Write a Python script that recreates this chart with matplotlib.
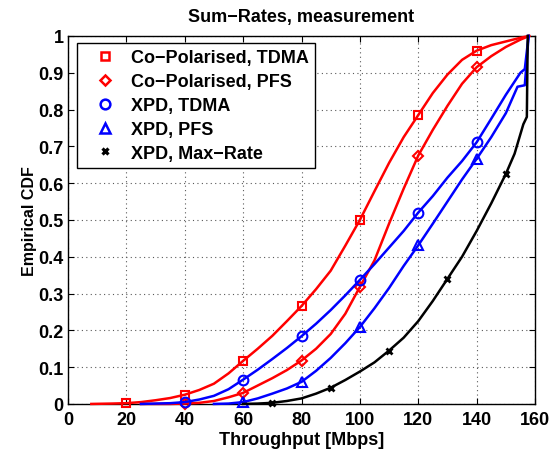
import numpy as np
import matplotlib
matplotlib.use('Agg')
import matplotlib.pyplot as plt
from matplotlib.lines import Line2D

# Данные (x - Mbps, y - CDF)
co_tdma_x = [8, 15, 20, 25, 30, 35, 40, 45, 50, 55, 60, 65, 70, 75, 80, 85, 90, 95, 100,
             105, 110, 115, 120, 125, 130, 135, 140, 145, 150, 155, 158]
co_tdma_y = [0, 0.001, 0.002, 0.005, 0.01, 0.016, 0.025, 0.038, 0.055, 0.083, 0.117, 0.15,
             0.185, 0.225, 0.266, 0.312, 0.362, 0.43, 0.50, 0.578, 0.655, 0.725, 0.785, 0.845,
             0.895, 0.935, 0.96, 0.975, 0.985, 0.995, 1.0]

co_pfs_x = [25, 30, 35, 40, 45, 50, 55, 60, 65, 70, 75, 80, 85, 90, 95, 100, 105, 110, 115,
            120, 125, 130, 135, 140, 145, 150, 155, 158]
co_pfs_y = [0, 0, 0, 0.001, 0.003, 0.008, 0.018, 0.03, 0.05, 0.07, 0.092, 0.118, 0.15, 0.19,
            0.245, 0.318, 0.39, 0.49, 0.585, 0.675, 0.745, 0.81, 0.87, 0.915, 0.945, 0.97,
            0.99, 1.0]

xpd_tdma_x = [25, 30, 35, 40, 45, 50, 55, 60, 65, 70, 75, 80, 85, 90, 95, 100, 105, 110, 115,
              120, 125, 130, 135, 140, 145, 150, 155, 156.5, 157.8]
xpd_tdma_y = [0, 0.001, 0.002, 0.005, 0.012, 0.022, 0.04, 0.066, 0.093, 0.122, 0.152, 0.184,
              0.218, 0.255, 0.295, 0.337, 0.38, 0.425, 0.47, 0.52, 0.565, 0.615, 0.66, 0.711,
              0.775, 0.84, 0.9, 0.91, 1.0]

xpd_pfs_x = [50, 55, 60, 65, 70, 75, 80, 85, 90, 95, 100, 105, 110, 115, 120, 125, 130, 135,
             140, 145, 150, 154, 156.5, 157.8]
xpd_pfs_y = [0, 0.001, 0.005, 0.015, 0.028, 0.042, 0.06, 0.09, 0.125, 0.165, 0.209, 0.26,
             0.315, 0.375, 0.431, 0.49, 0.55, 0.61, 0.666, 0.725, 0.79, 0.862, 0.866, 1.0]

xpd_max_x = [60, 65, 70, 75, 80, 85, 90, 95, 100, 105, 110, 115, 120, 125, 130, 135, 140,
             145, 150, 153, 156, 157.2, 157.5]
xpd_max_y = [0, 0.001, 0.003, 0.008, 0.015, 0.028, 0.044, 0.065, 0.088, 0.113, 0.145, 0.18,
             0.225, 0.28, 0.34, 0.4, 0.47, 0.545, 0.625, 0.68, 0.76, 0.78, 1.0]

labels = ['Co\u2212Polarised, TDMA', 'Co\u2212Polarised, PFS', 'XPD, TDMA', 'XPD, PFS',
          'XPD, Max\u2212Rate']
marker_x = [[20, 40, 60, 80, 100, 120, 140],
            [40, 60, 80, 100, 120, 140],
            [40, 60, 80, 100, 120, 140],
            [60, 80, 100, 120, 140],
            [70, 90, 110, 130, 150]]

plt.rcParams['font.family'] = ['Liberation Sans', 'DejaVu Sans']
plt.rcParams['font.weight'] = 'bold'

fig = plt.figure(figsize=(5.55, 4.56), dpi=100)
ax = fig.add_axes([0.1225, 0.112, 0.8415, 0.807])

series = [(co_tdma_x, co_tdma_y, 'red', 's', 6, 1.5),
          (co_pfs_x, co_pfs_y, 'red', 'D', 5.5, 1.5),
          (xpd_tdma_x, xpd_tdma_y, 'blue', 'o', 7, 1.5),
          (xpd_pfs_x, xpd_pfs_y, 'blue', '^', 7.5, 1.5),
          (xpd_max_x, xpd_max_y, 'black', 'x', 4.5, 2)]

handles = []
for (x, y, c, m, ms, mw), mx, lab in zip(series, marker_x, labels):
    x = np.array(x)
    idx = [int(np.argmin(np.abs(x - v))) for v in mx]
    ax.plot(x, y, color=c, lw=1.8, marker=m, markevery=idx, ms=ms,
            mfc='none', mec=c, mew=mw, clip_on=False, zorder=3)
    handles.append(Line2D([], [], ls='none', marker=m, ms=ms, mfc='none',
                          mec=c, mew=mw + 0.3, label=lab))

ax.set_xlim(0, 160)
ax.set_ylim(0, 1)
ax.set_xticks(np.arange(0, 161, 20))
ax.set_yticks(np.arange(0, 1.01, 0.1))
ax.set_yticklabels(['0', '0.1', '0.2', '0.3', '0.4', '0.5', '0.6', '0.7', '0.8', '0.9', '1'])
ax.tick_params(direction='in', top=True, right=True, labelsize=13, length=4, width=0.8)
ax.tick_params(axis='x', pad=5)
ax.tick_params(axis='y', pad=3)
for lbl in ax.get_xticklabels() + ax.get_yticklabels():
    lbl.set_fontweight('bold')
ax.grid(True, ls=(0, (1, 3)), color='0.35', lw=0.8)
for s in ax.spines.values():
    s.set_linewidth(1.0)

ax.set_xlabel('Throughput [Mbps]', fontsize=13, fontweight='bold', labelpad=2)
ax.set_ylabel('Empirical CDF', fontsize=11.5, fontweight='bold', labelpad=1)
ax.set_title('Sum\u2212Rates, measurement', fontsize=13, fontweight='bold', pad=11)

leg = ax.legend(handles=handles, loc='upper left', fontsize=13, frameon=True,
                fancybox=False, edgecolor='black', framealpha=1,
                handlelength=2.4, handletextpad=0.25, borderpad=0.35,
                labelspacing=0.38, borderaxespad=0,
                bbox_to_anchor=(0.019, 0.981))
leg.get_frame().set_linewidth(1.0)
for t in leg.get_texts():
    t.set_fontweight('bold')

fig.savefig('out.png', dpi=100)
